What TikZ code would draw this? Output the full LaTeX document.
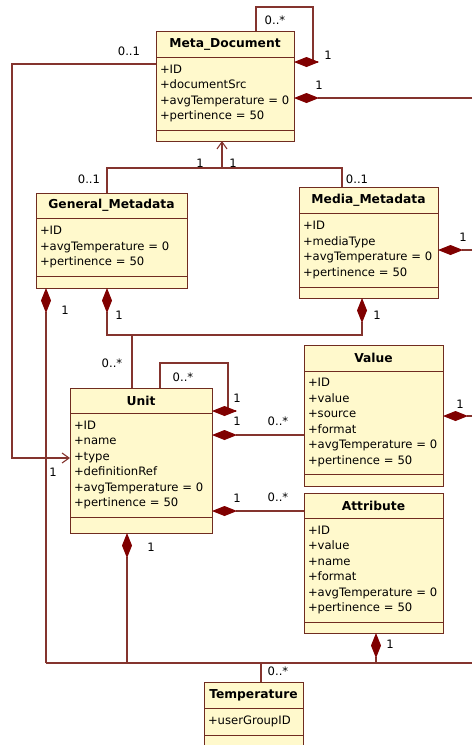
\documentclass[tikz,border=0pt]{standalone}
\usepackage{fontspec}
\setmainfont{DejaVu Sans}
\usetikzlibrary{positioning,arrows.meta}

\definecolor{boxfill}{RGB}{255,249,204}
\definecolor{boxline}{RGB}{112,44,32}
\definecolor{linkcol}{RGB}{132,52,46}
\definecolor{diacol}{RGB}{128,0,0}

\begin{document}
\begin{tikzpicture}[x=1pt,y=-1pt,
    ctitle/.style={draw=boxline, fill=boxfill, line width=1pt, outer sep=0pt, anchor=north west,
      inner sep=0pt, font=\bfseries\fontsize{12.3}{14}\selectfont},
    cattr/.style={draw=boxline, fill=boxfill, line width=1pt, outer sep=0pt, inner xsep=4pt,
      inner ysep=0pt, align=left, font=\fontsize{11.6}{15.5}\selectfont},
    cops/.style={draw=boxline, fill=boxfill, line width=1pt, outer sep=0pt, inner sep=0pt},
    link/.style={draw=linkcol, line width=1.1pt},
    comp/.style={link, -{Diamond[length=25pt,width=10pt,color=diacol]}},
    assoc/.style={link, -{Straight Barb[length=7pt,width=10pt]}},
    mult/.style={inner sep=0pt, font=\fontsize{11.6}{13}\selectfont}]

  \useasboundingbox (0,0) rectangle (472,745);

  \node[ctitle, minimum width=138pt, minimum height=26pt] (mdT) at (156,31) {Meta\_Document};
  \node[cattr, text width=130pt, minimum height=73pt, below=0pt of mdT] (mdA)
    {+ID\\+documentSrc\\+avgTemperature = 0\\+pertinence = 50};
  \node[cops, minimum width=138pt, minimum height=11pt, below=0pt of mdA] (mdO) {};

  \node[ctitle, minimum width=151pt, minimum height=25pt] (gmT) at (36,193) {General\_Metadata};
  \node[cattr, text width=143pt, minimum height=58pt, below=0pt of gmT] (gmA)
    {+ID\\+avgTemperature = 0\\+pertinence = 50};
  \node[cops, minimum width=151pt, minimum height=12pt, below=0pt of gmA] (gmO) {};

  \node[ctitle, minimum width=139pt, minimum height=26pt] (mmT) at (299,187) {Media\_Metadata};
  \node[cattr, text width=131pt, minimum height=74pt, below=0pt of mmT] (mmA)
    {+ID\\+mediaType\\+avgTemperature = 0\\+pertinence = 50};
  \node[cops, minimum width=139pt, minimum height=11pt, below=0pt of mmA] (mmO) {};

  \node[ctitle, minimum width=142pt, minimum height=25pt] (unT) at (70,388) {Unit};
  \node[cattr, text width=134pt, minimum height=104pt, below=0pt of unT] (unA)
    {+ID\\+name\\+type\\+definitionRef\\+avgTemperature = 0\\+pertinence = 50};
  \node[cops, minimum width=142pt, minimum height=16pt, below=0pt of unA] (unO) {};

  \node[ctitle, minimum width=139pt, minimum height=26pt] (vaT) at (304,345) {Value};
  \node[cattr, text width=131pt, minimum height=103pt, below=0pt of vaT] (vaA)
    {+ID\\+value\\+source\\+format\\+avgTemperature = 0\\+pertinence = 50};
  \node[cops, minimum width=139pt, minimum height=12pt, below=0pt of vaA] (vaO) {};

  \node[ctitle, minimum width=139pt, minimum height=25pt] (atT) at (304,493) {Attribute};
  \node[cattr, text width=131pt, minimum height=104pt, below=0pt of atT] (atA)
    {+ID\\+value\\+name\\+format\\+avgTemperature = 0\\+pertinence = 50};
  \node[cops, minimum width=139pt, minimum height=11pt, below=0pt of atA] (atO) {};

  \node[ctitle, minimum width=99pt, minimum height=26pt] (tpT) at (204,682) {Temperature};
  \node[cattr, text width=91pt, minimum height=27pt, below=0pt of tpT] (tpA) {+userGroupID};
  \node[cops, minimum width=99pt, minimum height=12pt, below=0pt of tpA] (tpO) {};

  \coordinate (mdLoop) at (313,7);
  \coordinate (mdRight) at (472,98);
  \coordinate (leftRail) at (12,458);
  \coordinate (mdJoin) at (222,168);
  \coordinate (unJoin) at (132,335);
  \coordinate (mmRight) at (472,250);
  \coordinate (unLoop) at (228,363);
  \coordinate (vaLeft) at ([yshift=-12.5pt]vaA.west);
  \coordinate (vaRight) at (472,416);
  \coordinate (atLeft) at ([yshift=-5.5pt]atT.west);
  \coordinate (railGm) at (46,663);
  \coordinate (railUn) at (127,663);
  \coordinate (railTp) at (261,663);
  \coordinate (railAt) at (376,663);
  \coordinate (railEnd) at (472,663);

  \draw[comp] ([xshift=31pt]mdT.north) |- (mdLoop) |- ([yshift=-5pt]mdA.north east);
  \draw[comp] (mdRight) -- (mdRight -| mdA.east);
  \draw[assoc] ([yshift=-7pt]mdA.north west) -| (leftRail) -- (leftRail -| unA.west);
  \draw[link] ([xshift=-4.5pt]gmT.north) |- (mdJoin) -| ([xshift=-26.5pt]mmT.north);
  \draw[assoc] (mdJoin) -- (mdJoin |- mdO.south);
  \draw[link] (railGm) -- (railEnd);
  \draw[comp] (railGm) -- (railGm |- gmO.south);
  \draw[comp] (unJoin) -| ([xshift=-4.5pt]gmO.south);
  \draw[comp] (unJoin) -| ([xshift=-6.5pt]mmO.south);
  \draw[link] (unJoin) -- (unJoin |- unT.north);
  \draw[comp] (mmRight) -- (mmRight -| mmA.east);
  \draw[comp] ([xshift=19pt]unT.north) |- (unLoop) |- ([yshift=2pt]unT.south east);
  \draw[comp] (vaLeft) -- (vaLeft -| unA.east);
  \draw[comp] (vaRight) -- (vaRight -| vaA.east);
  \draw[comp] (atLeft) -- (atLeft -| unA.east);
  \draw[comp] (railAt) -- (railAt |- atO.south);
  \draw[comp] (railUn) -- (railUn |- unO.south);
  \draw[link] (railTp) -- (railTp |- tpT.north);

  \begin{scope}[every node/.style={mult}]
    \node (mdLoopM) at (275,20) {0..*};
    \node (mdLoopO) at (328,55) {1};
    \node (mdRightO) at (319,85) {1};
    \node (mdLeftM) at (129,51) {0..1};
    \node (mdJoinL) at (200,163) {1};
    \node (mdJoinR) at (233,163) {1};
    \node (gmUpM) at (89,179) {0..1};
    \node (mmUpM) at (357,179) {0..1};
    \node (gmRailO) at (65,310) {1};
    \node (gmUnO) at (119,315) {1};
    \node (mmUnO) at (377,315) {1};
    \node (mmRightO) at (463,237) {1};
    \node (unUpM) at (112,363) {0..*};
    \node (unLoopM) at (183,377) {0..*};
    \node (unLoopO) at (237,398) {1};
    \node (unVaO) at (237,421) {1};
    \node (unVaM) at (278,421) {0..*};
    \node (vaRightO) at (460,404) {1};
    \node (unLeftO) at (53,472) {1};
    \node (unAtO) at (237,498) {1};
    \node (unAtM) at (278,497) {0..*};
    \node (unRailO) at (151,547) {1};
    \node (atRailO) at (390,644) {1};
    \node (tpRailM) at (278,671) {0..*};
  \end{scope}

\end{tikzpicture}
\end{document}
